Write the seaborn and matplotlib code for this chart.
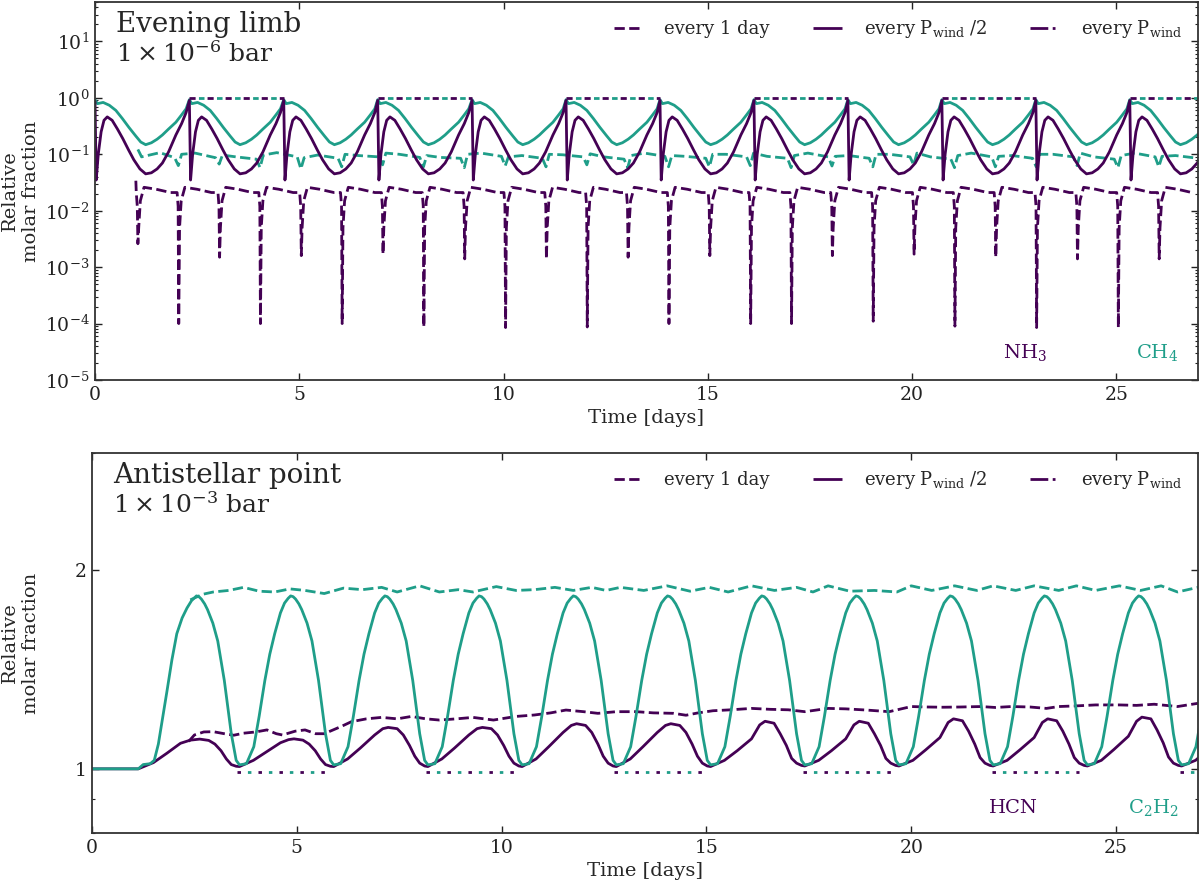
import matplotlib
matplotlib.use("Agg")
import matplotlib.pyplot as plt
import seaborn as sns
from matplotlib.lines import Line2D
from matplotlib.ticker import NullFormatter, FixedLocator, FixedFormatter

PURPLE = "#440154"
TEAL = "#1f9e89"

# ======================= Evening limb, 1e-6 bar =======================
# start times of each "every P_wind/2" cycle
top_cycle_start = [0.00, 2.31, 4.62, 6.92, 9.23, 11.53, 13.83, 16.13, 18.43, 20.73, 23.03, 25.33]

# CH4, every P_wind/2 : one cycle
ch4_half_offset = [0.00, 0.06, 0.20, 0.35, 0.51, 0.67, 0.83, 1.00, 1.12, 1.24, 1.38, 1.52, 1.65, 1.80, 1.98, 2.12, 2.23]
ch4_half_value = [0.93, 0.79, 0.83, 0.74, 0.60, 0.43, 0.30, 0.21, 0.165, 0.148, 0.16, 0.185, 0.22, 0.28, 0.37, 0.50, 0.64]

# NH3, every P_wind/2
nh3_half_offset = [0.00, 0.03, 0.08, 0.15, 0.22, 0.30, 0.42, 0.55, 0.68, 0.82, 0.95, 1.10, 1.24, 1.38, 1.52, 1.65, 1.80, 1.98, 2.12, 2.23]
nh3_half_value = [0.90, 0.035, 0.10, 0.25, 0.40, 0.46, 0.40, 0.28, 0.19, 0.12, 0.08, 0.055, 0.045, 0.047, 0.055, 0.07, 0.11, 0.22, 0.35, 0.55]

# every P_wind : flat segments
pwind_top_start = [2.31, 6.92, 11.53, 16.13, 20.73, 25.33]
pwind_top_end = [4.62, 9.23, 13.83, 18.43, 23.03, 27.00]
pwind_top_level = 1.0

# CH4, every 1 day
ch4_day_start_t = [1.05, 1.14, 1.59]
ch4_day_start_v = [0.122, 0.090, 0.107]
ch4_day_days = [2, 3, 4, 5, 6, 7, 8, 9, 10, 11, 12, 13, 14, 15, 16, 17, 18, 19, 20, 21, 22, 23, 24, 25, 26]
ch4_day_offset = [-0.05, 0.04, 0.12, 0.45]
ch4_day_rows = [
    [0.087, 0.063, 0.100, 0.105], [0.087, 0.067, 0.097, 0.090], [0.082, 0.058, 0.097, 0.107],
    [0.090, 0.055, 0.087, 0.097], [0.085, 0.060, 0.100, 0.095], [0.090, 0.065, 0.105, 0.100],
    [0.088, 0.060, 0.095, 0.088], [0.085, 0.058, 0.100, 0.105], [0.092, 0.062, 0.090, 0.095],
    [0.085, 0.060, 0.100, 0.098], [0.090, 0.065, 0.102, 0.090], [0.082, 0.058, 0.095, 0.105],
    [0.092, 0.060, 0.095, 0.092], [0.085, 0.060, 0.100, 0.100], [0.090, 0.063, 0.105, 0.092],
    [0.085, 0.058, 0.095, 0.105], [0.090, 0.062, 0.092, 0.095], [0.085, 0.060, 0.100, 0.100],
    [0.090, 0.065, 0.105, 0.090], [0.082, 0.058, 0.095, 0.105], [0.090, 0.060, 0.092, 0.095],
    [0.085, 0.060, 0.100, 0.100], [0.090, 0.063, 0.105, 0.090], [0.082, 0.058, 0.095, 0.105],
    [0.090, 0.060, 0.092, 0.095],
]
ch4_day_end_t = [27.0]
ch4_day_end_v = [0.085]

# NH3, every 1 day
nh3_day_start_t = [1.00]
nh3_day_start_v = [0.034]
nh3_day_days = [1, 2, 3, 4, 5, 6, 7, 8, 9, 10, 11, 12, 13, 14, 15, 16, 17, 18, 19, 20, 21, 22, 23, 24, 25, 26]
nh3_day_offset = [0.01, 0.035, 0.05, 0.07, 0.11, 0.20, 0.50, 0.85]
nh3_day_dip = [2.6e-3, 1.0e-4, 1.5e-3, 1.0e-4, 1.6e-3, 1.0e-4, 1.7e-3, 8.7e-5, 1.4e-3, 8.5e-5,
               1.4e-3, 8.7e-5, 1.5e-3, 1.0e-4, 1.6e-3, 1.0e-4, 1.0e-4, 1.6e-3, 1.1e-4, 1.7e-3,
               9.0e-5, 1.5e-3, 8.5e-5, 1.4e-3, 8.5e-5, 1.4e-3]
nh3_day_pre = [0.021, 0.012]
nh3_day_post = [0.005, 0.015, 0.026, 0.024, 0.021]

# ======================= Antistellar point, 1e-3 bar =======================
bot_cycle_peak = [2.55, 4.85, 7.15, 9.45, 11.75, 14.05, 16.35, 18.65, 20.95, 23.25, 25.55]

# C2H2, every P_wind/2
c2h2_start_t = [0.00, 1.13, 1.25, 1.42, 1.52, 1.62, 1.72, 1.83, 1.95, 2.07, 2.20, 2.32, 2.43]
c2h2_start_v = [1.00, 1.00, 1.015, 1.018, 1.03, 1.09, 1.19, 1.31, 1.46, 1.60, 1.69, 1.75, 1.795]
c2h2_half_offset = [0.00, 0.06, 0.12, 0.20, 0.27, 0.40, 0.52, 0.68, 0.85, 0.97, 1.05, 1.22, 1.40, 1.53,
                    1.67, 1.79, 1.91, 2.05, 2.15, 2.24]
c2h2_half_value = [1.825, 1.82, 1.805, 1.775, 1.74, 1.66, 1.56, 1.36, 1.13, 1.03, 1.014, 1.018, 1.08, 1.20,
                   1.36, 1.49, 1.60, 1.72, 1.78, 1.81]

# HCN, every P_wind/2
hcn_start_t = [0.00, 1.13, 1.50, 1.83, 2.16, 2.40]
hcn_start_v = [1.00, 1.00, 1.022, 1.056, 1.093, 1.105]
hcn_half_offset = [0.08, 0.30, 0.45, 0.60, 0.73, 0.85, 0.97, 1.05, 1.39, 1.70, 2.05, 2.25]
hcn_half_rows = [
    [1.109, 1.104, 1.090, 1.065, 1.035, 1.015, 1.009, 1.008, 1.030, 1.060, 1.095, 1.107],
    [1.110, 1.105, 1.090, 1.065, 1.035, 1.015, 1.009, 1.008, 1.035, 1.075, 1.125, 1.150],
    [1.155, 1.150, 1.125, 1.085, 1.045, 1.020, 1.010, 1.008, 1.035, 1.075, 1.125, 1.150],
    [1.155, 1.150, 1.125, 1.085, 1.045, 1.020, 1.010, 1.008, 1.035, 1.080, 1.135, 1.163],
    [1.170, 1.163, 1.135, 1.090, 1.045, 1.020, 1.010, 1.008, 1.035, 1.080, 1.135, 1.163],
    [1.170, 1.163, 1.135, 1.090, 1.045, 1.020, 1.010, 1.008, 1.030, 1.065, 1.110, 1.165],
    [1.180, 1.172, 1.130, 1.085, 1.037, 1.020, 1.012, 1.010, 1.030, 1.065, 1.110, 1.165],
    [1.180, 1.172, 1.130, 1.085, 1.037, 1.020, 1.012, 1.010, 1.030, 1.068, 1.115, 1.175],
    [1.190, 1.182, 1.140, 1.090, 1.040, 1.020, 1.012, 1.010, 1.030, 1.068, 1.115, 1.175],
    [1.190, 1.182, 1.140, 1.090, 1.040, 1.020, 1.012, 1.010, 1.030, 1.070, 1.120, 1.180],
    [1.197, 1.190, 1.145, 1.095, 1.042, 1.020, 1.012, 1.010, 1.030, 1.070, 1.120, 1.180],
]

# HCN, every 1 day
hcn_day_t = [2.36, 2.50, 2.73, 2.96, 3.23, 3.46, 3.70, 4.00, 4.27, 4.50,
             4.65, 4.96, 5.20, 5.46, 5.67, 6.10, 6.33, 6.70, 7.07, 7.45,
             7.80, 8.15, 8.48, 8.90, 9.30, 9.80, 10.35, 10.80, 11.20, 11.57,
             12.00, 12.35, 12.80, 13.29, 13.70, 14.20, 14.50, 14.80, 15.16, 15.60,
             16.10, 16.56, 17.00, 17.40, 17.97, 18.40, 18.90, 19.46, 20.00, 20.40,
             20.77, 21.20, 21.70, 22.05, 22.45, 22.90, 23.30, 23.60, 24.05, 24.50,
             25.08, 25.50, 25.93, 26.50, 27.00]
hcn_day_v = [1.100, 1.125, 1.137, 1.138, 1.130, 1.124, 1.132, 1.137, 1.145, 1.130,
             1.125, 1.140, 1.145, 1.130, 1.130, 1.160, 1.178, 1.190, 1.196, 1.190,
             1.200, 1.190, 1.185, 1.190, 1.196, 1.185, 1.200, 1.206, 1.215, 1.227,
             1.220, 1.213, 1.220, 1.220, 1.215, 1.213, 1.205, 1.215, 1.224, 1.228,
             1.234, 1.230, 1.228, 1.220, 1.234, 1.232, 1.227, 1.220, 1.242, 1.240,
             1.239, 1.240, 1.242, 1.238, 1.242, 1.240, 1.234, 1.242, 1.245, 1.249,
             1.249, 1.247, 1.252, 1.242, 1.256]

# C2H2, every 1 day
c2h2_day_t = [2.40, 2.70, 2.96, 3.34, 3.70, 4.08, 4.46, 4.83, 5.20, 5.67,
              6.14, 6.60, 7.07, 7.45, 8.00, 8.48, 8.94, 9.30, 9.87, 10.35,
              10.80, 11.30, 11.75, 12.20, 12.55, 12.90, 13.47, 14.04, 14.60, 15.07,
              15.53, 16.10, 16.66, 17.20, 17.60, 17.97, 18.50, 19.10, 19.65, 20.00,
              20.50, 21.06, 21.60, 22.00, 22.55, 23.00, 23.60, 24.03, 24.50, 25.08,
              25.60, 26.10, 26.50, 27.00]
c2h2_day_v = [1.800, 1.835, 1.850, 1.860, 1.880, 1.855, 1.850, 1.870, 1.860, 1.840,
              1.875, 1.865, 1.880, 1.850, 1.890, 1.850, 1.865, 1.850, 1.885, 1.860,
              1.865, 1.880, 1.860, 1.880, 1.860, 1.880, 1.860, 1.890, 1.855, 1.880,
              1.850, 1.890, 1.860, 1.880, 1.850, 1.890, 1.855, 1.860, 1.850, 1.890,
              1.860, 1.890, 1.860, 1.890, 1.860, 1.890, 1.860, 1.890, 1.860, 1.890,
              1.860, 1.890, 1.850, 1.880]

# every P_wind : flat segments
pwind_bot_start = [3.55, 8.15, 12.75, 17.36, 21.97, 26.57]
pwind_bot_end = [5.70, 10.35, 14.90, 19.50, 24.10, 27.00]
pwind_bot_level = 0.99

legend_labels = ["every 1 day", r"every $\mathrm{P_{wind}}$ /2", r"every $\mathrm{P_{wind}}$"]


def tile(starts, offsets, rows):
    ts, vs = [], []
    for s, row in zip(starts, rows):
        for o, val in zip(offsets, row):
            ts.append(s + o)
            vs.append(val)
    return ts, vs


def draw(ax, t, v, color, ls, lw=2.0):
    sns.lineplot(x=t, y=v, ax=ax, color=color, linestyle=ls, linewidth=lw,
                 estimator=None, sort=False, errorbar=None, legend=False)


sns.set_style("ticks")
plt.rcParams.update({
    "font.family": ["DejaVu Serif"],
    "mathtext.fontset": "dejavuserif",
    "xtick.direction": "in", "ytick.direction": "in",
    "xtick.top": True, "ytick.right": True,
    "xtick.major.size": 5, "ytick.major.size": 5,
    "xtick.minor.size": 2.5, "ytick.minor.size": 2.5,
    "xtick.major.width": 1.0, "ytick.major.width": 1.0,
    "ytick.minor.width": 0.8,
    "xtick.major.pad": 4, "ytick.major.pad": 4,
    "xtick.color": "#222222", "ytick.color": "#222222",
    "axes.edgecolor": "#333333", "axes.linewidth": 1.3,
    "xtick.labelsize": 13.5, "ytick.labelsize": 13.5,
    "axes.labelsize": 14,
    "lines.solid_capstyle": "butt",
})

fig = plt.figure(figsize=(12, 8.85), dpi=100)
ax1 = fig.add_axes([95 / 1200, 1 - 380 / 885, 1103 / 1200, 378 / 885])
ax2 = fig.add_axes([92 / 1200, 1 - 833 / 885, 1106 / 1200, 380 / 885])

TOP_P = (0, (2.2, 4.3))
TOP_T = (3.1, (2.0, 4.5))
BOT_P = (0, (1.25, 6.3))
BOT_T = (3.8, (1.25, 6.3))

# ---------------- top panel ----------------
ax1.set_yscale("log")
t, v = tile(nh3_day_days, nh3_day_offset,
            [nh3_day_pre + [dip] + nh3_day_post for dip in nh3_day_dip])
draw(ax1, nh3_day_start_t + t, nh3_day_start_v + v, PURPLE, "--")
t, v = tile(ch4_day_days, ch4_day_offset, ch4_day_rows)
draw(ax1, ch4_day_start_t + t + ch4_day_end_t, ch4_day_start_v + v + ch4_day_end_v, TEAL, "--")
t, v = tile(top_cycle_start, ch4_half_offset, [ch4_half_value] * len(top_cycle_start))
draw(ax1, t, v, TEAL, "-")
t, v = tile(top_cycle_start, nh3_half_offset, [nh3_half_value] * len(top_cycle_start))
draw(ax1, t, v, PURPLE, "-")
for s, e in zip(pwind_top_start, pwind_top_end):
    draw(ax1, [s, e], [pwind_top_level, pwind_top_level], PURPLE, TOP_P)
    draw(ax1, [s, e], [pwind_top_level, pwind_top_level], TEAL, TOP_T)

ax1.set_xlim(0, 27)
ax1.set_ylim(1e-5, 50)

# ---------------- bottom panel ----------------
ax2.set_yscale("log")
draw(ax2, hcn_day_t, hcn_day_v, PURPLE, "--")
draw(ax2, c2h2_day_t, c2h2_day_v, TEAL, "--")
t, v = tile(bot_cycle_peak, hcn_half_offset, hcn_half_rows)
draw(ax2, hcn_start_t + t, hcn_start_v + v, PURPLE, "-")
t, v = tile(bot_cycle_peak, c2h2_half_offset, [c2h2_half_value] * len(bot_cycle_peak))
draw(ax2, c2h2_start_t + t, c2h2_start_v + v, TEAL, "-")
for s, e in zip(pwind_bot_start, pwind_bot_end):
    draw(ax2, [s, e], [pwind_bot_level, pwind_bot_level], PURPLE, BOT_P)
    draw(ax2, [s, e], [pwind_bot_level, pwind_bot_level], TEAL, BOT_T)

ax2.set_xlim(0, 27)
ax2.set_ylim(0.8, 3)
ax2.yaxis.set_major_locator(FixedLocator([1, 2]))
ax2.yaxis.set_major_formatter(FixedFormatter(["1", "2"]))
ax2.yaxis.set_minor_formatter(NullFormatter())

handles = [Line2D([], [], color=PURPLE, lw=2.0, ls="--"),
           Line2D([], [], color=PURPLE, lw=2.0, ls="-"),
           Line2D([], [], color=PURPLE, lw=2.0, ls="-.")]

for ax, title, pres in [
    (ax1, "Evening limb", r"$1\times10^{-6}$ bar"),
    (ax2, "Antistellar point", r"$1\times10^{-3}$ bar"),
]:
    ax.set_xticks([0, 5, 10, 15, 20, 25])
    ax.set_xlabel("Time [days]", labelpad=4)
    ax.set_ylabel("Relative\nmolar fraction")
    ax.text(0.019, 0.92, title, transform=ax.transAxes, fontsize=20, va="baseline", ha="left")
    ax.text(0.019, 0.842, pres, transform=ax.transAxes, fontsize=18, va="baseline", ha="left")
    ax.legend(handles, legend_labels, loc="upper right", ncol=3, frameon=False, fontsize=13,
              handlelength=1.6, handletextpad=1.2, columnspacing=2.4, borderaxespad=0.5)
    for sp in ax.spines.values():
        sp.set_visible(True)

ax1.yaxis.set_label_coords(-0.05, 0.5)
ax2.yaxis.set_label_coords(-0.047, 0.5)
ax1.text(0.823, 0.058, "NH$_3$", transform=ax1.transAxes, color=PURPLE, fontsize=14, va="baseline")
ax1.text(0.944, 0.058, "CH$_4$", transform=ax1.transAxes, color=TEAL, fontsize=14, va="baseline")
ax2.text(0.811, 0.053, "HCN", transform=ax2.transAxes, color=PURPLE, fontsize=14, va="baseline")
ax2.text(0.937, 0.053, "C$_2$H$_2$", transform=ax2.transAxes, color=TEAL, fontsize=14, va="baseline")

fig.savefig("out.png", dpi=100)
